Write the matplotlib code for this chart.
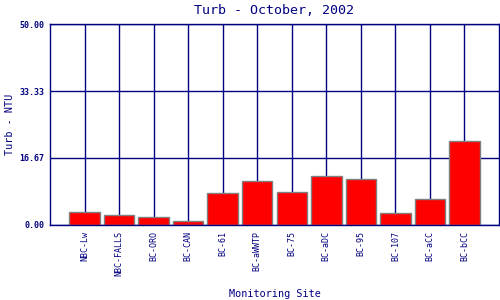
import matplotlib
matplotlib.use("Agg")
import matplotlib.pyplot as plt

sites = ["NBC-Lw", "NBC-FALLS", "BC-ORO", "BC-CAN", "BC-61", "BC-aWWTP",
         "BC-75", "BC-aDC", "BC-95", "BC-107", "BC-aCC", "BC-bCC"]
turb = [3.2, 2.4, 1.9, 0.9, 7.9, 10.9, 8.1, 12.1, 11.4, 2.9, 6.4, 20.8]
yticks = [0.0, 16.67, 33.33, 50.0]

NAVY = "#000080"


def main():
    plt.rcParams["font.family"] = "DejaVu Sans Mono"
    fig = plt.figure(figsize=(5, 3), dpi=100)
    ax = fig.add_axes([0.1, 0.25, 0.898, 0.67])

    x = list(range(len(sites)))
    for xi in x:
        ax.axvline(xi, color=NAVY, lw=1, zorder=1)
    for yt in yticks:
        ax.axhline(yt, color=NAVY, lw=1, zorder=1)
    ax.bar(x, turb, width=0.88, color="#ff0000", edgecolor="#808080",
           linewidth=1, zorder=2)

    ax.set_xlim(-1, 12)
    ax.set_ylim(0, 50)
    ax.set_yticks(yticks)
    ax.set_yticklabels(["%.2f" % v for v in yticks], fontsize=6,
                       color=NAVY, fontweight="bold")
    ax.set_xticks(x)
    ax.set_xticklabels(sites, rotation=90, fontsize=6, color=NAVY)
    ax.tick_params(length=0, pad=4)
    for s in ax.spines.values():
        s.set_color(NAVY)
        s.set_linewidth(1)

    ax.set_title("Turb - October, 2002", color=NAVY, fontsize=9.6, pad=7.5)
    ax.set_xlabel("Monitoring Site", color=NAVY, fontsize=7.3, labelpad=10)
    ax.set_ylabel("Turb - NTU", color=NAVY, fontsize=7.3, labelpad=3)

    fig.savefig("out.png", dpi=100)


if __name__ == "__main__":
    main()
